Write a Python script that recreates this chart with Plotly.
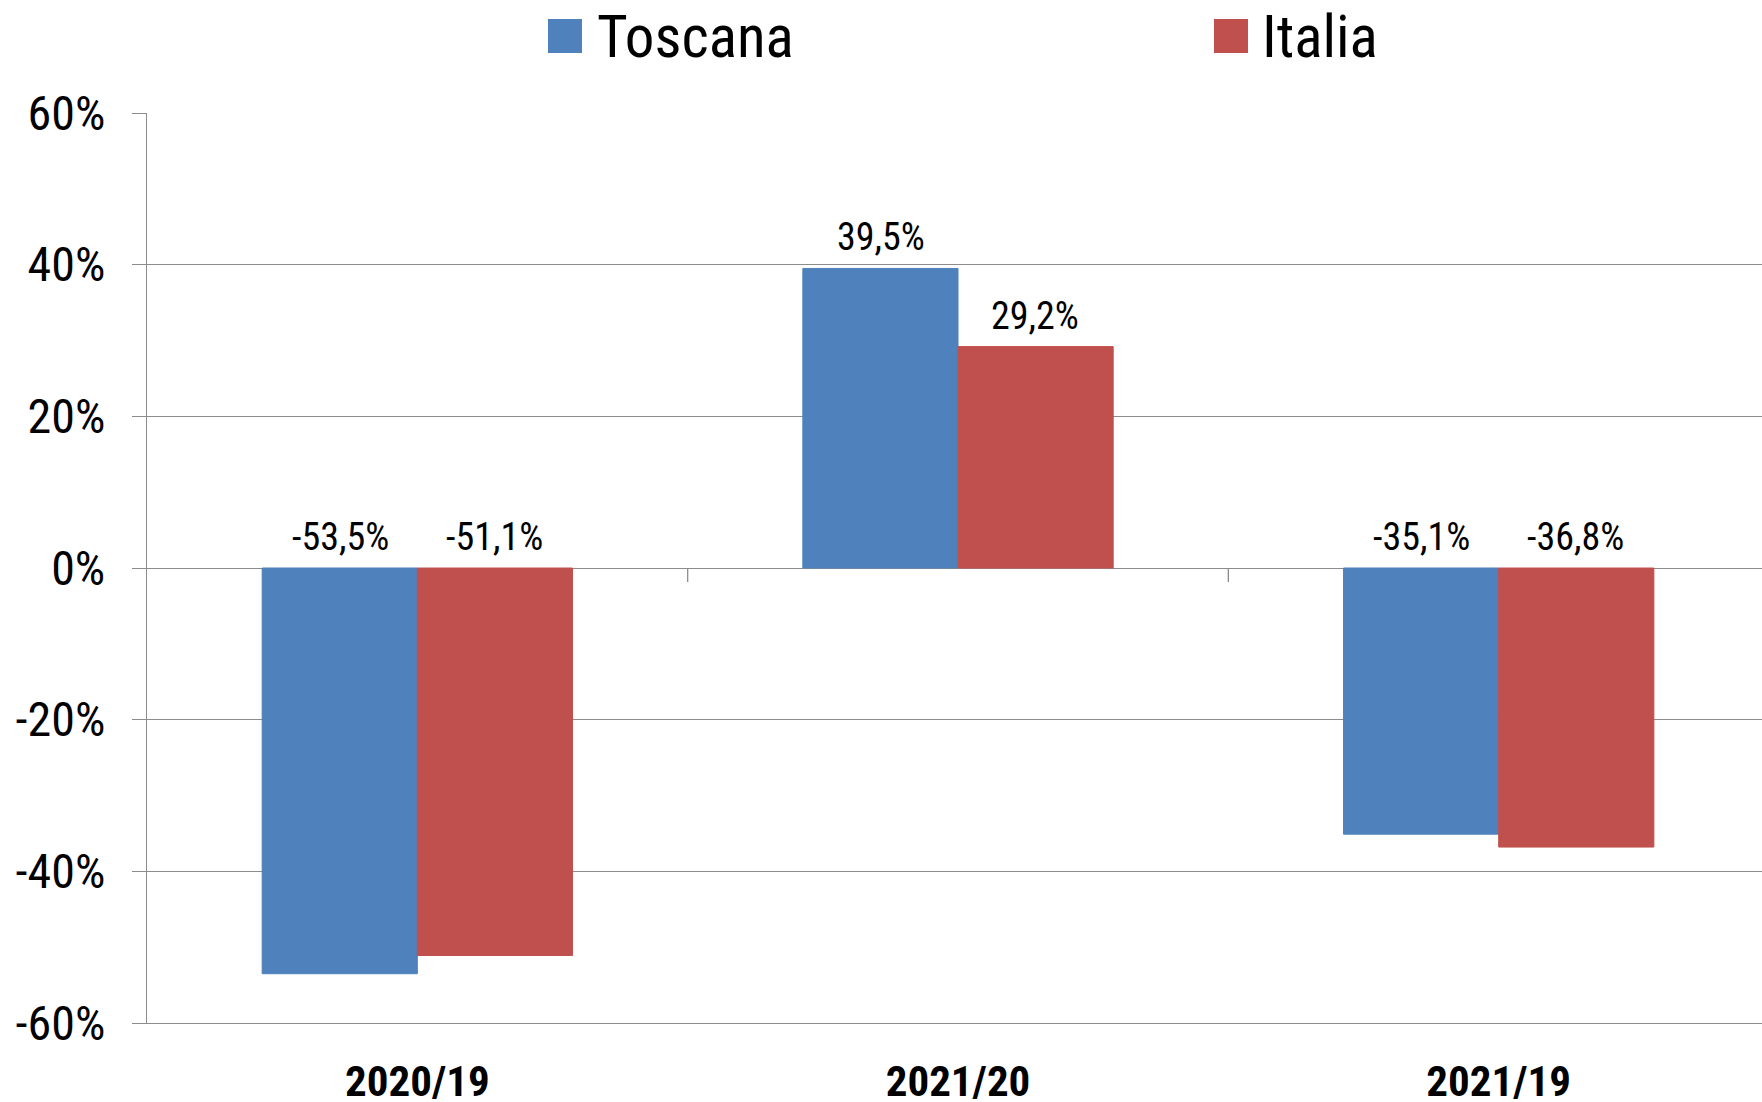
import plotly.graph_objects as go

periods = ["2020/19", "2021/20", "2021/19"]
toscana = [-53.5, 39.5, -35.1]
italia = [-51.1, 29.2, -36.8]
series_names = ["Toscana", "Italia"]
colors = ["#4F81BD", "#C0504D"]
y_ticks = [-60, -40, -20, 0, 20, 40, 60]

FONT = "Liberation Sans Narrow, Noto Sans Condensed, Roboto Condensed, DejaVu Sans Condensed, Liberation Sans, sans-serif"
GRID = "#8C8C8C"

W, H = 1762, 1102
L, R, T, B = 147, 0, 113, 79
plot_w = W - L - R
plot_h = H - T - B


def px_x(px):
    return (px - L) / plot_w


def px_y(py):
    return (H - B - py) / plot_h


def fmt(v):
    return f"{v:.1f}%".replace(".", ",")


fig = go.Figure()
for name, vals, col in zip(series_names, [toscana, italia], colors):
    fig.add_trace(go.Bar(
        x=periods,
        y=vals,
        name=name,
        marker=dict(color=col, line=dict(color=col, width=1)),
        showlegend=False,
    ))

# data labels, sitting above the bar top (or above zero for negative bars)
half = 77
annotations = []
for i, (vals, shift) in enumerate([(toscana, -half), (italia, half)]):
    for cat, v in zip(periods, vals):
        annotations.append(dict(
            x=cat, y=max(v, 0), xref="x", yref="y",
            text=fmt(v), showarrow=False,
            yanchor="bottom", xanchor="center",
            xshift=shift, yshift=7,
            font=dict(family=FONT, size=38, color="black"),
        ))

# custom legend with large swatches
shapes = []
legend_items = [
    ("Toscana", colors[0], 548, 595),
    ("Italia", colors[1], 1214, 1260),
]
for name, col, sx, tx in legend_items:
    shapes.append(dict(
        type="rect", xref="paper", yref="paper",
        x0=px_x(sx), x1=px_x(sx + 34), y0=px_y(53), y1=px_y(19),
        fillcolor=col, line=dict(width=0),
    ))
    annotations.append(dict(
        x=px_x(tx), y=px_y(36), xref="paper", yref="paper",
        text=name, showarrow=False, xanchor="left", yanchor="middle",
        font=dict(family=FONT, size=59, color="black"),
    ))

# category separator ticks on the zero line
for xb in [0.5, 1.5]:
    shapes.append(dict(
        type="line", xref="x", yref="y",
        x0=xb, x1=xb, ysizemode="pixel", yanchor=0, y0=0, y1=-14,
        line=dict(color=GRID, width=1.3),
    ))

fig.update_layout(
    width=W, height=H,
    margin=dict(l=L, r=R, t=T, b=B),
    paper_bgcolor="white",
    plot_bgcolor="white",
    barmode="group",
    bargap=0.426,
    bargroupgap=0,
    showlegend=False,
    annotations=annotations,
    shapes=shapes,
    font=dict(family=FONT, color="black"),
)
fig.update_xaxes(
    type="category",
    range=[-0.5, 2.487],
    automargin=False,
    showgrid=False,
    showline=True, linecolor=GRID, linewidth=1.3,
    ticks="",
    tickfont=dict(family=FONT, size=43, color="black", weight="bold"),
    ticklabelstandoff=20,
)
fig.update_yaxes(
    range=[-60, 60],
    automargin=False,
    tickvals=y_ticks,
    ticktext=[f"{v}%" for v in y_ticks],
    showgrid=True, gridcolor=GRID, gridwidth=1.3,
    zeroline=False,
    showline=True, linecolor=GRID, linewidth=1.3,
    ticks="outside", ticklen=14, tickcolor=GRID, tickwidth=1.3,
    tickfont=dict(family=FONT, size=48, color="black"),
    ticklabelstandoff=17,
)

fig.write_html(
    "out.html",
    config={"displayModeBar": False},
    post_script="document.body.style.margin='0';",
)
